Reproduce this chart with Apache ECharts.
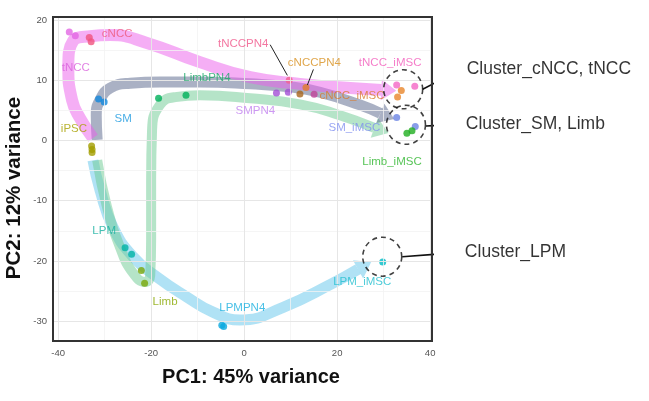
<!DOCTYPE html>
<html>
<head>
<meta charset="utf-8">
<script src="https://cdn.jsdelivr.net/npm/echarts@6/dist/echarts.min.js"></script>
<style>
  html, body { margin: 0; padding: 0; background: #fff; }
  #chart { width: 649px; height: 401px; }
</style>
</head>
<body>
<div id="chart"></div>
<script>
// PCA samples: group names and (PC1, PC2) of each replicate
const groupNames = ['tNCC', 'cNCC', 'SM', 'iPSC', 'LimbPN4', 'LPM', 'Limb', 'LPMPN4',
  'tNCCPN4', 'cNCCPN4', 'SMPN4', 'tNCC_iMSC', 'cNCC_iMSC', 'SM_iMSC', 'Limb_iMSC', 'LPM_iMSC'];
const groupPoints = [
  [[-37.6, 18.0], [-36.3, 17.4]],
  [[-33.3, 17.1], [-32.9, 16.4]],
  [[-31.3, 6.9], [-30.1, 6.4]],
  [[-32.8, -0.9], [-32.7, -1.5], [-32.7, -2.0]],
  [[-18.4, 7.0], [-12.5, 7.5]],
  [[-25.6, -17.8], [-24.2, -18.9]],
  [[-22.1, -21.6], [-21.4, -23.7]],
  [[-4.8, -30.7], [-4.4, -30.9]],
  [[9.7, 10.0], [15.05, 7.66]],
  [[13.3, 8.8], [12.0, 7.7]],
  [[6.95, 7.9], [9.5, 8.0]],
  [[32.8, 9.2], [36.7, 9.0]],
  [[33.8, 8.3], [33.0, 7.2]],
  [[32.8, 3.8], [36.8, 2.3]],
  [[35.0, 1.2], [36.1, 1.6]],
  [[29.8, -20.2]]
];
// where each group's name is written
const labelPositions = [
  [-36.2, 12.1], [-27.3, 17.7], [-26.0, 3.6], [-36.6, 1.9], [-8.0, 10.4], [-30.1, -15.0],
  [-17.0, -26.8], [-0.4, -27.8], [-0.2, 16.0], [15.1, 12.9], [2.4, 4.9], [31.4, 12.9],
  [23.2, 7.4], [23.7, 2.1], [31.8, -3.6], [25.4, -23.5]
];
// leader lines for the repelled labels tNCCPN4 and cNCCPN4
const labelLeaders = [
  [[5.6, 15.9], [9.3, 10.8]],
  [[14.9, 11.8], [13.6, 9.2]]
];

// differentiation trajectories
const pathLPM = [[-32.5, -3.3], [-31.0, -8.2], [-28.2, -14.4], [-23.9, -19.3], [-18.7, -22.7],
  [-12.3, -26.0], [-6.7, -28.5], [-0.9, -29.8], [8.4, -27.7], [19.1, -23.7], [24.5, -21.4]];
const pathLimb = [[-31.6, -3.3], [-29.5, -11.0], [-26.7, -17.7], [-23.9, -22.0], [-21.3, -23.5],
  [-20.2, -22.4], [-20.0, -16.5], [-20.0, -6.6], [-19.8, 1.7], [-18.1, 5.9], [-14.8, 7.2],
  [-9.5, 7.5], [1.3, 7.0], [12.0, 6.0], [20.6, 4.2], [28.0, 2.1]];
const pathSM = [[-31.6, 0.1], [-31.8, 4.2], [-31.0, 6.7], [-28.8, 8.7], [-24.5, 9.5], [-18.1, 9.7],
  [-9.5, 9.7], [1.3, 9.4], [9.9, 8.9], [16.3, 8.0], [24.9, 5.9], [29.3, 4.5]];
const pathNCC = [[-32.5, 0.4], [-35.3, 3.7], [-37.0, 6.7], [-37.8, 12.2], [-36.8, 16.5],
  [-33.1, 17.3], [-28.8, 17.5], [-20.9, 16.2], [-9.5, 13.0], [1.3, 10.5], [12.0, 9.4],
  [22.8, 8.7], [29.5, 8.4]];

// clusters: circle centres, leader lines and captions
const clusterNames = ['Cluster_cNCC, tNCC', 'Cluster_SM, Limb', 'Cluster_LPM'];
const clusterCenters = [[34.2, 8.5], [34.8, 2.6], [29.7, -19.3]];
const clusterLeaders = [
  [[38.4, 8.5], [46.9, 11.9]],
  [[39.1, 2.4], [46.7, 2.7]],
  [[34.0, -19.3], [46.5, -18.6]]
];

// axis ticks
const xTicks = [-40, -20, 0, 20, 40];
const xMinorTicks = [-30, -10, 10, 30];
const yTicks = [-30, -20, -10, 0, 10, 20];
const yMinorTicks = [-25, -15, -5, 5, 15];

// styles
const pointColors = {
  tNCC: ['#e266e3'], cNCC: ['#f0527e'], SM: ['#1188dd'], iPSC: ['#a39e00'],
  LimbPN4: ['#00b05a'], LPM: ['#00b3a6'], Limb: ['#7aa80a'], LPMPN4: ['#0aa9df'],
  tNCCPN4: ['#f2608e', '#c2449a'], cNCCPN4: ['#e27a2a', '#a9651c'], SMPN4: ['#a24ed6'],
  tNCC_iMSC: ['#f466c6'], cNCC_iMSC: ['#e8862a'], SM_iMSC: ['#6c84e4'],
  Limb_iMSC: ['#1fae1f'], LPM_iMSC: ['#00bcc6']
};
const labelColors = {
  tNCC: '#da62dc', cNCC: '#ee5a7c', SM: '#1c9ae0', iPSC: '#a8a000', LimbPN4: '#1aa868',
  LPM: '#18b0a0', Limb: '#88a800', LPMPN4: '#1ab0e0', tNCCPN4: '#f0558a', cNCCPN4: '#d8901e',
  SMPN4: '#c27ff0', tNCC_iMSC: '#f25cbc', cNCC_iMSC: '#d77a2e', SM_iMSC: '#7f8ff0',
  Limb_iMSC: '#2db52d', LPM_iMSC: '#22bfd0'
};
const FONT = 'Liberation Sans, Arial, sans-serif';

const paths = [
  { data: pathLPM, color: '#61c5eb', width: 11 },
  { data: pathLimb, color: '#6bc991', width: 10 },
  { data: pathSM, color: '#556389', width: 11 },
  { data: pathNCC, color: '#eb5deb', width: 12 }
];
const BAND_OPACITY = 0.5;
const ARROW = { w: 21, h: 15 };

const chart = echarts.init(document.getElementById('chart'), null, { renderer: 'canvas' });

function gridLines(values, axis, color, width) {
  return values.map(v => ({ [axis]: v, lineStyle: { color: color, width: width, type: 'solid' } }));
}

function buildOption(arrows) {
  const series = [];

  // panel grid lines
  series.push({
    type: 'scatter', data: [], silent: true, z: 0,
    markLine: {
      silent: true, symbol: 'none', label: { show: false }, animation: false,
      data: [].concat(
        gridLines(xMinorTicks, 'xAxis', '#f3f3f3', 0.8),
        gridLines(yMinorTicks, 'yAxis', '#f3f3f3', 0.8),
        gridLines(xTicks, 'xAxis', '#e6e6e6', 1),
        gridLines(yTicks, 'yAxis', '#e6e6e6', 1)
      )
    }
  });

  // trajectory bands
  paths.forEach(p => {
    series.push({
      type: 'line', data: p.data, smooth: 0.5, symbol: 'none', silent: true, z: 2,
      lineStyle: { color: p.color, width: p.width, opacity: BAND_OPACITY }
    });
  });
  if (arrows) {
    series.push({
      type: 'scatter', silent: true, z: 2, symbol: 'triangle',
      symbolSize: [ARROW.w, ARROW.h],
      data: arrows.map((a, i) => ({
        value: a.pos, symbolRotate: a.rotate,
        itemStyle: { color: paths[i].color, opacity: BAND_OPACITY }
      }))
    });
  }

  // sample points
  const pts = [];
  groupNames.forEach((g, gi) => {
    groupPoints[gi].forEach((pt, k) => {
      const cols = pointColors[g];
      pts.push({ name: g, value: pt, itemStyle: { color: cols[Math.min(k, cols.length - 1)] } });
    });
  });
  series.push({ type: 'scatter', data: pts, symbolSize: 7, z: 4, silent: true });

  // group labels
  series.push({
    type: 'scatter', z: 5, symbolSize: 1, silent: true,
    itemStyle: { color: 'rgba(0,0,0,0)' },
    label: { show: true, position: 'inside', formatter: '{b}', fontFamily: FONT, fontSize: 11.5 },
    data: groupNames.map((g, i) => ({ name: g, value: labelPositions[i], label: { color: labelColors[g] } }))
  });
  labelLeaders.forEach(l => {
    series.push({
      type: 'line', data: l, symbol: 'none', silent: true, z: 5,
      lineStyle: { color: '#222', width: 1 }
    });
  });

  // clusters
  series.push({
    type: 'scatter', z: 6, silent: true, symbolSize: 39,
    itemStyle: { color: 'rgba(0,0,0,0)', borderColor: '#111', borderWidth: 1.6, borderType: [5, 4] },
    data: clusterCenters
  });
  clusterLeaders.forEach(l => {
    series.push({
      type: 'line', data: l, symbol: 'none', silent: true, z: 6, clip: false,
      lineStyle: { color: '#111', width: 1.6 }
    });
  });
  series.push({
    type: 'scatter', z: 6, silent: true, clip: false, symbolSize: 1,
    itemStyle: { color: 'rgba(0,0,0,0)' },
    label: { show: true, position: 'right', distance: 4, formatter: '{b}', color: '#000', fontFamily: FONT, fontSize: 17.5 },
    data: clusterNames.map((n, i) => ({ name: n, value: clusterLeaders[i][1] }))
  });

  return {
    animation: false,
    backgroundColor: '#fff',
    grid: {
      left: 53, top: 17, right: 217, bottom: 60, outerBoundsMode: 'none', containLabel: false,
      show: true, borderColor: '#333', borderWidth: 2, backgroundColor: 'transparent', z: 10
    },
    xAxis: {
      type: 'value', min: -41.1, max: 40.4,
      name: 'PC1: 45% variance', nameLocation: 'middle', nameGap: 26,
      nameTextStyle: { fontFamily: FONT, fontWeight: 'bold', fontSize: 20, color: '#111', padding: [0, 0, 0, 17] },
      axisLine: { show: false }, axisTick: { show: false }, splitLine: { show: false },
      axisLabel: { customValues: xTicks, margin: 7, fontFamily: FONT, fontSize: 9.5, color: '#555' }
    },
    yAxis: {
      type: 'value', min: -33.3, max: 20.5,
      name: 'PC2: 12% variance', nameLocation: 'middle', nameGap: 28, nameMoveOverlap: false,
      nameTextStyle: { fontFamily: FONT, fontWeight: 'bold', fontSize: 20.5, color: '#111', padding: [0, 18, 0, 0] },
      axisLine: { show: false }, axisTick: { show: false }, splitLine: { show: false },
      axisLabel: { customValues: yTicks, margin: 6, fontFamily: FONT, fontSize: 9.5, color: '#555' }
    },
    series: series
  };
}

chart.setOption(buildOption(null));

// arrowheads: oriented along the final segment of each band
const arrows = paths.map(p => {
  const n = p.data.length;
  const a = chart.convertToPixel({ gridIndex: 0 }, p.data[n - 2]);
  const b = chart.convertToPixel({ gridIndex: 0 }, p.data[n - 1]);
  const dx = b[0] - a[0], dy = b[1] - a[1];
  const len = Math.sqrt(dx * dx + dy * dy);
  const ux = dx / len, uy = dy / len;
  const centre = [b[0] + ux * ARROW.h / 2, b[1] + uy * ARROW.h / 2];
  const angle = Math.atan2(-dy, dx) * 180 / Math.PI;
  return { pos: chart.convertFromPixel({ gridIndex: 0 }, centre), rotate: angle - 90 };
});
chart.setOption(buildOption(arrows), true);
</script>
</body>
</html>
